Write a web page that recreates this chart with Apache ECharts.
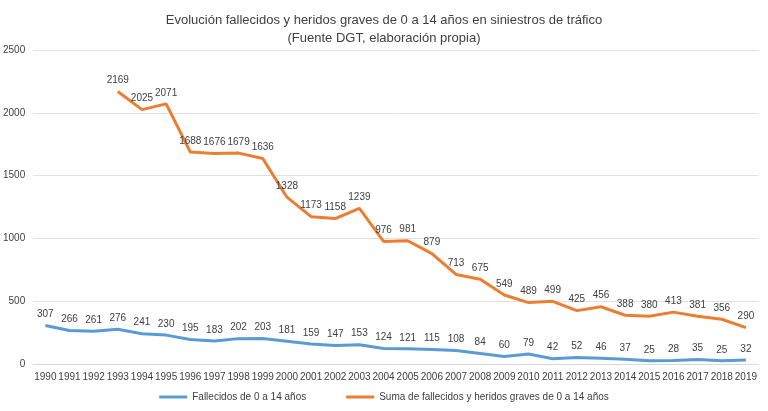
<html><head><script src="https://cdn.jsdelivr.net/npm/echarts@6/dist/echarts.min.js"></script></head>
<body style="margin:0"><div id="c" style="width:768px;height:411px"></div>
<script>
const years=[];for(let y=1990;y<=2019;y++)years.push(String(y));
const fallecidos=[307,266,261,276,241,230,195,183,202,203,181,159,147,153,124,121,115,108,84,60,79,42,52,46,37,25,28,35,25,32];
const suma=[null,null,null,2169,2025,2071,1688,1676,1679,1636,1328,1173,1158,1239,976,981,879,713,675,549,489,499,425,456,388,380,413,381,356,290];
const ch=echarts.init(document.getElementById('c'));
const lbl={show:true,position:'top',distance:6,fontSize:10,color:'#404040',fontFamily:'Liberation Sans'};
ch.setOption({
 textStyle:{fontFamily:'Liberation Sans'},
 title:{text:'Evolución fallecidos y heridos graves de 0 a 14 años en siniestros de tráfico\n(Fuente DGT, elaboración propia)',left:'center',top:6,textStyle:{fontSize:13,fontWeight:'normal',color:'#404040',lineHeight:18}},
 legend:{bottom:4,itemWidth:28,itemHeight:3,icon:'rect',itemGap:40,textStyle:{fontSize:10,color:'#404040'}},
 grid:{left:32,right:10,top:50,bottom:47},
 xAxis:{type:'category',data:years,axisTick:{show:false},axisLine:{lineStyle:{color:'#d9d9d9'}},axisLabel:{fontSize:10,color:'#404040',interval:0}},
 yAxis:{type:'value',min:0,max:2500,interval:500,axisLabel:{fontSize:10,color:'#404040',formatter:v=>String(v)},splitLine:{lineStyle:{color:'#e0e0e0'}}},
 series:[
  {name:'Fallecidos de 0 a 14 años',type:'line',data:fallecidos,symbol:'circle',symbolSize:0.1,showSymbol:true,lineStyle:{width:3,color:'#5b9bd5'},itemStyle:{color:'#5b9bd5'},label:lbl,labelLayout:{hideOverlap:false}},
  {name:'Suma de fallecidos y heridos graves de 0 a 14 años',type:'line',data:suma,symbol:'circle',symbolSize:0.1,showSymbol:true,lineStyle:{width:3,color:'#ed7d31'},itemStyle:{color:'#ed7d31'},label:lbl,labelLayout:{hideOverlap:false}}
 ]});
</script></body></html>
